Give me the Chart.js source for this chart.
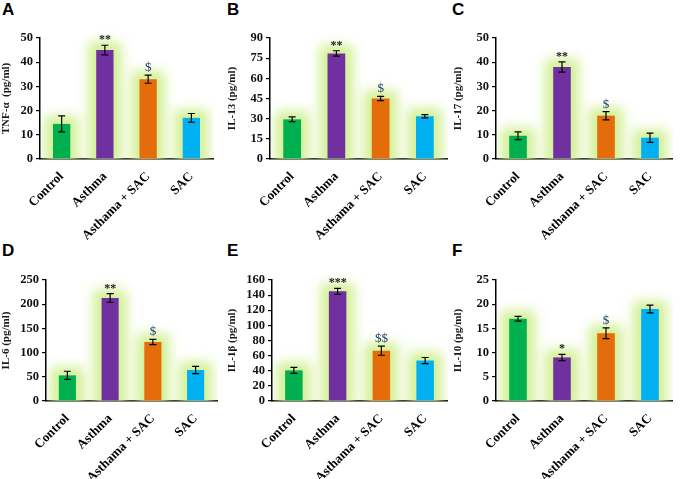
<!DOCTYPE html>
<html><head><meta charset="utf-8">
<script src="https://cdn.jsdelivr.net/npm/chart.js@4.4.1/dist/chart.umd.min.js"></script>
<style>
html,body{margin:0;padding:0;background:#fff;width:680px;height:479px;overflow:hidden;position:relative;}
.lbl{position:absolute;font:bold 17px "Liberation Sans",Arial,sans-serif;color:#000;line-height:17px;}
</style></head><body>
<div class="lbl" style="left:2px;top:1px">A</div>
<div class="lbl" style="left:227px;top:1px">B</div>
<div class="lbl" style="left:452px;top:1px">C</div>
<div class="lbl" style="left:2px;top:242px">D</div>
<div class="lbl" style="left:227px;top:242px">E</div>
<div class="lbl" style="left:452px;top:242px">F</div>
<script>
const categories = ['Control', 'Asthma', 'Asthama + SAC', 'SAC'];
const barColors = ['#00B050', '#7030A0', '#E46C0A', '#00B0F0'];

const tnfValues = [14.5, 45, 33, 17];
const tnfErrors = [3.3, 2, 1.7, 1.8];
const tnfMarks = ['', '**', '$', ''];

const il13Values = [29.5, 78.5, 45, 31.8];
const il13Errors = [1.8, 2, 1.6, 1.2];
const il13Marks = ['', '**', '$', ''];

const il17Values = [9.6, 38, 17.9, 8.8];
const il17Errors = [1.6, 2.1, 1.7, 1.9];
const il17Marks = ['', '**', '$', ''];

const il6Values = [53, 213, 122, 64];
const il6Errors = [8.5, 9, 5.5, 7.5];
const il6Marks = ['', '**', '$', ''];

const il1bValues = [40.5, 145, 66.5, 53.5];
const il1bErrors = [4, 4, 6, 4];
const il1bMarks = ['', '***', '$$', ''];

const il10Values = [17, 9, 14, 19];
const il10Errors = [0.5, 0.65, 1.1, 0.8];
const il10Marks = ['', '*', '$', ''];

const yMaxes = [50, 90, 50, 250, 160, 25];
const ySteps = [10, 15, 10, 50, 20, 5];
const yTitles = ['TNF-α  (pg/ml)', 'IL-13 (pg/ml)', 'IL-17 (pg/ml)', 'IL-6 (pg/ml)', 'IL-1β (pg/ml)', 'IL-10 (pg/ml)'];

const glowPlugin = {
  id: 'glow',
  beforeDatasetsDraw(chart) {
    const ctx = chart.ctx, ca = chart.chartArea;
    const meta = chart.getDatasetMeta(0);
    ctx.save();
    ctx.beginPath();
    ctx.rect(ca.left + 1, ca.top - 30, ca.right - ca.left, ca.bottom - ca.top + 30);
    ctx.clip();
    ctx.filter = 'blur(6px)';
    ctx.fillStyle = 'rgba(205,238,135,0.9)';
    meta.data.forEach(b => {
      const w = b.width;
      ctx.fillRect(b.x - w / 2 - 8, b.y - 8, w + 16, b.base - b.y + 16);
    });
    ctx.restore();
  }
};

const errPlugin = {
  id: 'err',
  afterDatasetsDraw(chart) {
    const ctx = chart.ctx;
    const ys = chart.scales.y;
    const ds = chart.data.datasets[0];
    const meta = chart.getDatasetMeta(0);
    ctx.save();
    ctx.strokeStyle = '#000';
    ctx.lineWidth = 1.2;
    meta.data.forEach((b, i) => {
      const v = ds.data[i], e = ds.errors[i];
      const yt = ys.getPixelForValue(v + e), yb = ys.getPixelForValue(v - e);
      ctx.beginPath();
      ctx.moveTo(b.x, yt); ctx.lineTo(b.x, yb);
      ctx.moveTo(b.x - 3.5, yt); ctx.lineTo(b.x + 3.5, yt);
      ctx.moveTo(b.x - 3.5, yb); ctx.lineTo(b.x + 3.5, yb);
      ctx.stroke();
      const m = ds.marks[i];
      if (m) {
        ctx.textAlign = 'center';
        ctx.textBaseline = 'alphabetic';
        if (m.indexOf('*') >= 0) {
          ctx.fillStyle = '#1a1a1a';
          ctx.font = 'bold 12px "Liberation Serif", serif';
          ctx.fillText(m, b.x, yt - 2);
        } else {
          ctx.fillStyle = '#1f3d6b';
          ctx.font = '13px "Liberation Serif", serif';
          ctx.fillText(m, b.x, yt - 4);
        }
      }
    });
    ctx.restore();
  }
};

function makePanel(p) {
  const cv = document.createElement('canvas');
  cv.width = p.w; cv.height = p.h;
  cv.style.cssText = 'position:absolute;left:' + p.x + 'px;top:' + p.y + 'px;width:' + p.w + 'px;height:' + p.h + 'px';
  document.body.appendChild(cv);
  new Chart(cv, {
    type: 'bar',
    data: {
      labels: categories,
      datasets: [{
        data: p.values, errors: p.errors, marks: p.marks,
        backgroundColor: barColors, borderWidth: 0,
        barPercentage: 0.8, categoryPercentage: 0.5
      }]
    },
    options: {
      responsive: false, animation: false, devicePixelRatio: 1,
      layout: { padding: { left: 0, top: p.top, right: p.w - p.right, bottom: 0 } },
      plugins: { legend: { display: false }, tooltip: { enabled: false } },
      scales: {
        x: {
          grid: { display: false },
          border: { display: true, color: '#000', width: 1.5 },
          ticks: {
            autoSkip: false, minRotation: 45, maxRotation: 45, padding: 2,
            color: '#000', font: { family: '"Liberation Serif", serif', size: 13, weight: 'bold' }
          },
          afterFit(s) { s.height = p.h - p.bottom; }
        },
        y: {
          min: 0, max: p.max,
          grid: { drawOnChartArea: false, drawTicks: true, tickLength: 4, color: '#000', lineWidth: 1.2 },
          border: { display: true, color: '#000', width: 1.5 },
          ticks: {
            stepSize: p.step, autoSkip: false, padding: 3, color: '#111',
            font: { family: '"Liberation Serif", serif', size: 12.5, weight: 'bold' }
          },
          title: {
            display: true, text: p.title, color: '#1a1a1a', padding: { top: 0, bottom: 0 },
            font: { family: '"Liberation Serif", serif', size: 11, weight: 'bold' }
          },
          afterFit(s) { s.width = p.left; }
        }
      }
    },
    plugins: [glowPlugin, errPlugin]
  });
}

const panels = [
  { x: 0, y: 0, w: 226, h: 240, left: 40, right: 213, top: 38, bottom: 159, values: tnfValues, errors: tnfErrors, marks: tnfMarks },
  { x: 226, y: 0, w: 226, h: 240, left: 44, right: 221, top: 38, bottom: 159, values: il13Values, errors: il13Errors, marks: il13Marks },
  { x: 452, y: 0, w: 228, h: 240, left: 44, right: 220, top: 38, bottom: 159, values: il17Values, errors: il17Errors, marks: il17Marks },
  { x: 0, y: 240, w: 226, h: 239, left: 46, right: 217, top: 40, bottom: 161, values: il6Values, errors: il6Errors, marks: il6Marks },
  { x: 226, y: 240, w: 226, h: 239, left: 46, right: 221, top: 40, bottom: 161, values: il1bValues, errors: il1bErrors, marks: il1bMarks },
  { x: 452, y: 240, w: 228, h: 239, left: 44, right: 220, top: 40, bottom: 161, values: il10Values, errors: il10Errors, marks: il10Marks }
];
panels.forEach((p, i) => {
  p.max = yMaxes[i]; p.step = ySteps[i]; p.title = yTitles[i];
  makePanel(p);
});
</script>
</body></html>
